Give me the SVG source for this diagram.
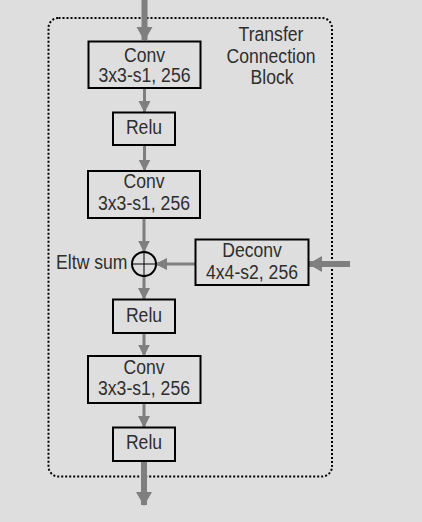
<svg xmlns="http://www.w3.org/2000/svg" width="422" height="522" viewBox="0 0 422 522">
<defs>
<style>
.box{fill:#dedede;stroke:#000;stroke-width:2}
.t{font-family:"Liberation Sans",Arial,sans-serif;font-size:17.6px;fill:#2e2e2e;text-anchor:middle}
.thin{stroke:#7f7f7f;stroke-width:3;fill:none}
.thick{stroke:#7f7f7f;stroke-width:6;fill:none}
</style>
<marker id="ah" markerUnits="userSpaceOnUse" markerWidth="14" markerHeight="14" refX="11" refY="7" orient="auto">
<path d="M0,1 L12,7 L0,13 z" fill="#7f7f7f"/>
</marker>
<marker id="ahb" markerUnits="userSpaceOnUse" markerWidth="18" markerHeight="18" refX="13" refY="9" orient="auto">
<path d="M0,1 L14,9 L0,17 z" fill="#7f7f7f"/>
</marker>
</defs>
<rect width="422" height="522" fill="#dedede"/>
<g id="block">
<rect x="48.5" y="18" width="283.5" height="458.5" rx="10" fill="none" stroke="#000" stroke-width="2" stroke-dasharray="2 2"/>
<text class="t" transform="translate(271,40.5) scale(1,1.1)">Transfer</text>
<text class="t" transform="translate(271,63) scale(1,1.1)">Connection</text>
<text class="t" transform="translate(272,83.5) scale(1,1.1)">Block</text>
</g>
<g id="connectors">
<line class="thick" x1="144.5" y1="0" x2="144.5" y2="40" marker-end="url(#ahb)"/>
<line class="thin" x1="144.5" y1="88" x2="144.5" y2="112" marker-end="url(#ah)"/>
<line class="thin" x1="144.5" y1="145" x2="144.5" y2="170.5" marker-end="url(#ah)"/>
<line class="thin" x1="144" y1="218" x2="144" y2="251.5" marker-end="url(#ah)"/>
<line class="thin" x1="195" y1="264" x2="156" y2="264" marker-end="url(#ah)"/>
<line class="thick" x1="350" y1="264" x2="309" y2="264" marker-end="url(#ahb)"/>
<line class="thin" x1="144" y1="276" x2="144" y2="299" marker-end="url(#ah)"/>
<line class="thin" x1="144" y1="333" x2="144" y2="355.5" marker-end="url(#ah)"/>
<line class="thin" x1="144" y1="403" x2="144" y2="427" marker-end="url(#ah)"/>
<line class="thick" x1="144" y1="461" x2="144" y2="505" marker-end="url(#ahb)"/>
</g>
<g id="conv1">
<rect class="box" x="88.5" y="41.5" width="112" height="46.5"/>
<text class="t" transform="translate(144.5,62.3) scale(1,1.1)">Conv</text>
<text class="t" transform="translate(144.5,82.3) scale(1,1.1)">3x3-s1, 256</text>
</g>
<g id="relu1">
<rect class="box" x="113" y="112.5" width="62" height="32.5"/>
<text class="t" transform="translate(144,134.3) scale(1,1.1)">Relu</text>
</g>
<g id="conv2">
<rect class="box" x="88" y="171" width="112" height="47"/>
<text class="t" transform="translate(144,188.3) scale(1,1.1)">Conv</text>
<text class="t" transform="translate(144,210) scale(1,1.1)">3x3-s1, 256</text>
</g>
<g id="eltw">
<circle cx="144" cy="264" r="12" fill="none" stroke="#000" stroke-width="2"/>
<line x1="132" y1="264" x2="156" y2="264" stroke="#000" stroke-width="1"/>
<line x1="144" y1="252" x2="144" y2="276" stroke="#000" stroke-width="1"/>
<text class="t" transform="translate(127.5,268.5) scale(1,1.1)" style="text-anchor:end">Eltw sum</text>
</g>
<g id="deconv">
<rect class="box" x="195.5" y="239.5" width="113" height="45.5"/>
<text class="t" transform="translate(252,256.7) scale(1,1.1)">Deconv</text>
<text class="t" transform="translate(252,279) scale(1,1.1)">4x4-s2, 256</text>
</g>
<g id="relu2">
<rect class="box" x="113" y="299.5" width="62" height="33.5"/>
<text class="t" transform="translate(144,321.7) scale(1,1.1)">Relu</text>
</g>
<g id="conv3">
<rect class="box" x="88" y="356" width="112.5" height="47"/>
<text class="t" transform="translate(144,374) scale(1,1.1)">Conv</text>
<text class="t" transform="translate(144,395) scale(1,1.1)">3x3-s1, 256</text>
</g>
<g id="relu3">
<rect class="box" x="113" y="427.5" width="62" height="33.5"/>
<text class="t" transform="translate(144,449.3) scale(1,1.1)">Relu</text>
</g>
</svg>
